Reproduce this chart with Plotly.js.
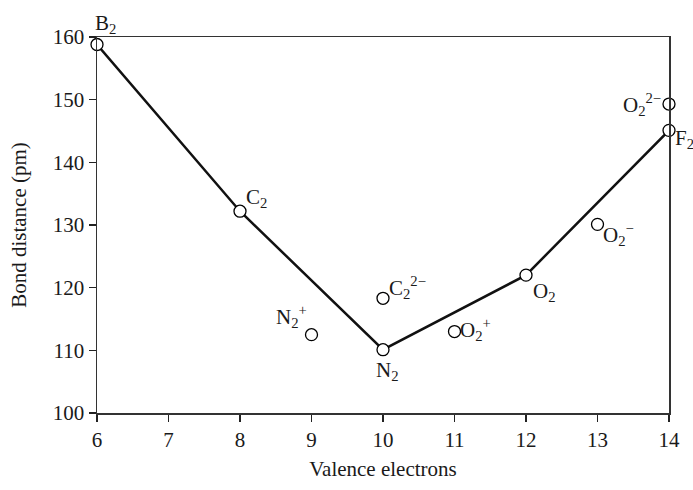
<!DOCTYPE html>
<html>
<head>
<meta charset="utf-8">
<script src="https://cdn.plot.ly/plotly-3.0.1.min.js"></script>
<style>html,body{margin:0;padding:0;background:#fff;}#chart{width:693px;height:490px;}</style>
</head>
<body>
<div id="chart"></div>
<script>
// Homonuclear diatomics connected by the line
const lineLabels = ["B<sub>2</sub>", "C<sub>2</sub>", "N<sub>2</sub>", "O<sub>2</sub>", "F<sub>2</sub>"];
const lineX = [6, 8, 10, 12, 14];
const lineY = [158.8, 132.2, 110.1, 122.0, 145.1];

// Ions (unconnected points)
const ionLabels = ["N<sub>2</sub><sup>+</sup>", "C<sub>2</sub><sup>2−</sup>", "O<sub>2</sub><sup>+</sup>", "O<sub>2</sub><sup>−</sup>", "O<sub>2</sub><sup>2−</sup>"];
const ionX = [9, 10, 11, 13, 14];
const ionY = [112.5, 118.3, 113.0, 130.1, 149.3];

const xTicks = [6, 7, 8, 9, 10, 11, 12, 13, 14];
const yTicks = [100, 110, 120, 130, 140, 150, 160];

const FONT = "Liberation Serif, Times New Roman, serif";
const INK = "#1a1a1a";

const markerStyle = {symbol: "circle", size: 12, color: "#fff", line: {color: "#000", width: 1.3}};

const traces = [
  {x: lineX, y: lineY, mode: "lines+markers", line: {color: "#111", width: 2.5},
   marker: markerStyle, cliponaxis: false, hoverinfo: "skip", showlegend: false},
  {x: ionX, y: ionY, mode: "markers", marker: markerStyle, cliponaxis: false, hoverinfo: "skip", showlegend: false}
];

// label placements (pixel offsets relative to each point)
const lineOffsets = [
  {xs: -4, ys: 6, xa: "left", ya: "bottom"},
  {xs: 4, ys: -2, xa: "left", ya: "bottom"},
  {xs: 4, ys: -6, xa: "center", ya: "top"},
  {xs: 5, ys: -2, xa: "left", ya: "top"},
  {xs: 4, ys: 6, xa: "left", ya: "top"}
];
const ionOffsets = [
  {xs: -3, ys: 2, xa: "right", ya: "bottom"},
  {xs: 4, ys: -6, xa: "left", ya: "bottom"},
  {xs: 3, ys: 2, xa: "left", ya: "middle"},
  {xs: 3, ys: 6, xa: "left", ya: "top"},
  {xs: -6, ys: 0, xa: "right", ya: "middle"}
];

const annotations = [];
function addLabels(labels, xs, ys, offs) {
  labels.forEach((t, i) => {
    annotations.push({x: xs[i], y: ys[i], xref: "x", yref: "y", text: t, showarrow: false,
      xanchor: offs[i].xa, yanchor: offs[i].ya, xshift: offs[i].xs, yshift: offs[i].ys,
      font: {family: FONT, size: 21, color: INK}});
  });
}
addLabels(lineLabels, lineX, lineY, lineOffsets);
addLabels(ionLabels, ionX, ionY, ionOffsets);

const layout = {
  width: 693, height: 490,
  margin: {l: 97, r: 24, t: 37, b: 77},
  paper_bgcolor: "#fff", plot_bgcolor: "#fff",
  font: {family: FONT, size: 20, color: INK},
  xaxis: {range: [6, 14], tickvals: xTicks, ticktext: xTicks.map(String), ticks: "outside", ticklen: 7,
    tickwidth: 1.3, tickcolor: "#222", showline: true, linecolor: "#333", linewidth: 1.5, mirror: true,
    showgrid: false, zeroline: false, tickfont: {family: FONT, size: 21, color: INK},
    title: {text: "Valence electrons", font: {family: FONT, size: 21, color: INK}, standoff: 10}},
  yaxis: {range: [100, 160], tickvals: yTicks, ticktext: yTicks.map(String), ticks: "outside", ticklen: 7,
    tickwidth: 1.3, tickcolor: "#222", showline: true, linecolor: "#333", linewidth: 1.5, mirror: true,
    showgrid: false, zeroline: false, tickfont: {family: FONT, size: 21, color: INK},
    title: {text: "Bond distance (pm)", font: {family: FONT, size: 21, color: INK}, standoff: 20}},
  annotations: annotations
};

Plotly.newPlot("chart", traces, layout, {staticPlot: true, displayModeBar: false});
</script>
</body>
</html>
